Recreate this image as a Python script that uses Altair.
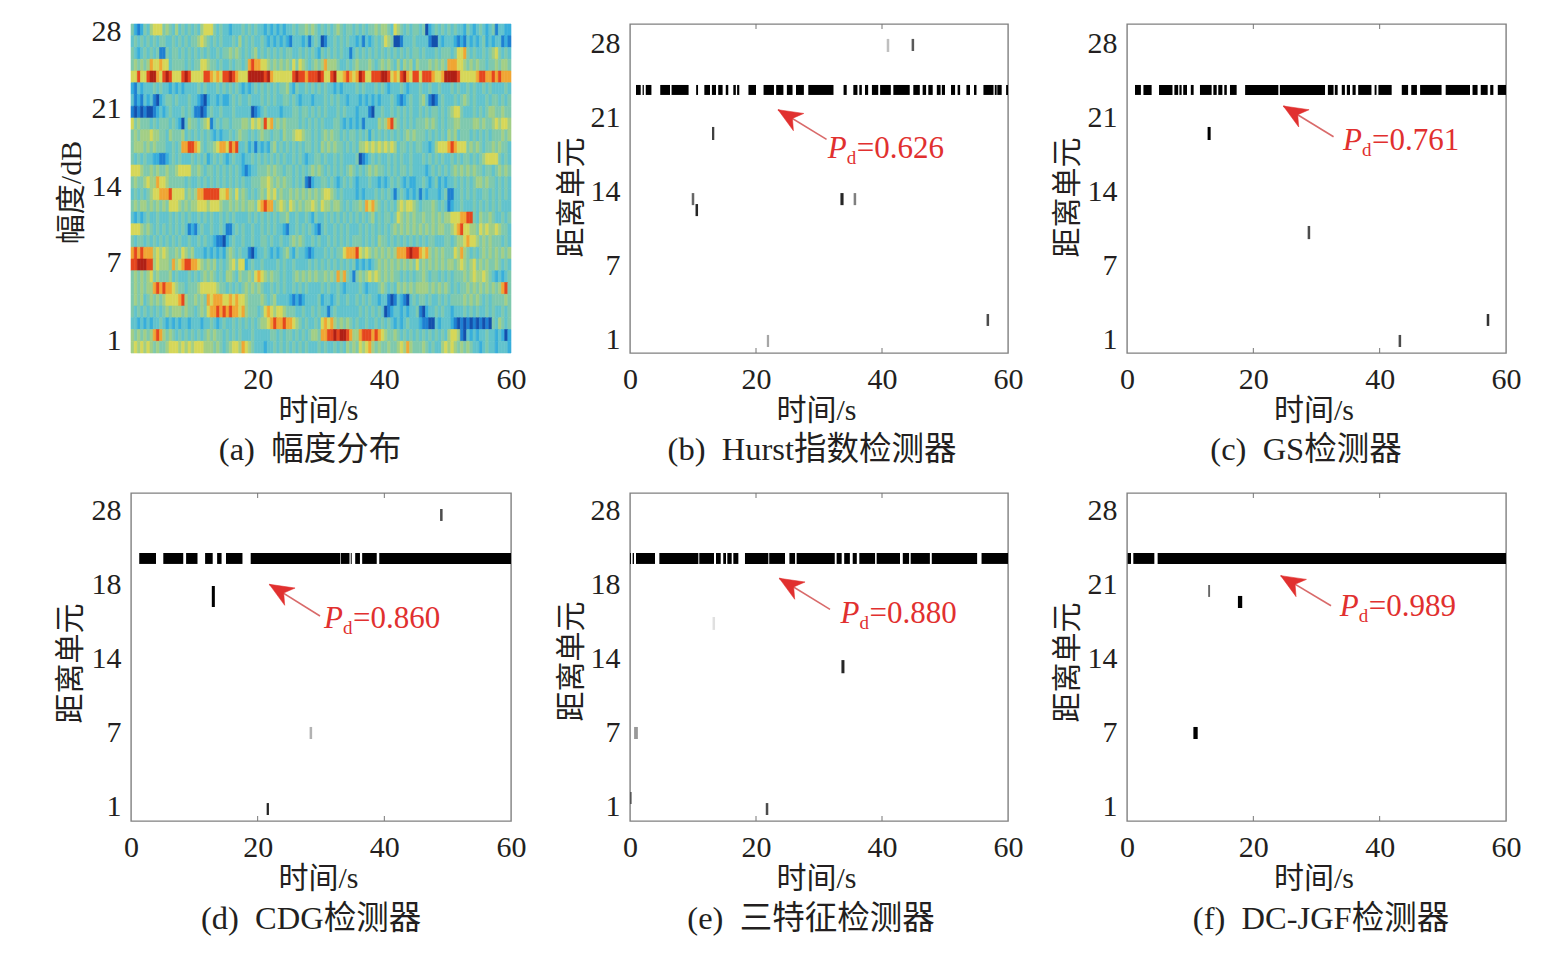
import altair as alt
import pandas as pd

FONT = "Liberation Serif, Noto Sans CJK SC"
INK = "#231f20"
RED = "#e1302f"

# Heat map levels (top row first): 28 rows, 120 columns in groups of ten
heat_rows = [
"4212435666 4543534343 4356664343 3233343434 3323232323 3434454543 4343454344 3434344545 5436543434 4340234343 4343324323 4323413322",
"3434343434 4334343434 4565434343 3343534343 3432323232 1333231343 0133434343 3231323434 6540013334 3333100323 3321213232 3423233121",
"4323434341 1434434343 4343433434 4545434345 3434343434 4334343432 4343434331 3434343434 3434343434 4343334344 4346674343 3434564343",
"4545457667 6634444343 4466544343 3434434787 7665454545 4646543454 5755543343 4544454345 4543535453 5444545454 7776654545 4434454554",
"6686689976 8986668986 6668876768 8987666999 9989766666 6898878889 8668966787 6798668889 9867689768 8688876679 9998666667 8877878777",
"2132333434 3323232333 3434333434 3434323234 3434343445 3243343434 3433232333 3434333434 3233343233 3433433433 3434334343 3434333343",
"3121323102 3443433343 3210233232 2343433433 3434343344 3432333233 3434343323 3323232323 3343212343 3453101343 3343454343 3343443434",
"1010100123 2343334343 1101343343 3343333301 2343333233 3443443434 3433343433 3233310334 3343434343 3434344343 4566433343 4345544544",
"6454443434 4434320354 4345613434 4344455465 6586745454 4443434343 4333443232 3231333354 5785434343 4445454343 4455444455 4544565665",
"4545556554 4354445343 4343432323 3434544343 4544344354 4566544343 4545443434 4343424343 4343434545 4443434343 5453444343 4343444545",
"4555454544 4334347788 7643445677 6878334231 3232453434 3434344343 5454544343 4355656565 6565344343 4433235666 7876664545 4344545443",
"4343433221 1234343334 3434234343 2343323343 4343434343 3434323344 3433434333 3401234343 3434343343 3343434343 3434344343 4566664343",
"6665445454 4544566664 4543443434 3434321233 4445454434 4343434545 4343434345 4343454544 3434344343 3332343434 3454545454 4344345454",
"4544565576 6544444343 3434343434 3434343344 4556545454 4343410233 4434323434 3233343323 2343432322 3343234232 3343434345 5454434343",
"3434345667 7786666454 5778888866 7546454343 4546564544 5454545454 5665434333 3232333434 3431343232 3132333234 1133434343 3443434343",
"4545545454 5466654545 5666566654 4545454554 6787745654 6545455654 6554554343 4454767543 4343565665 4344454343 1233433343 4343434333",
"3232343343 3343434343 3434343343 4343333434 3434343445 3343343243 3434343434 3434345343 4434654545 4454454545 5666778843 5445433434",
"6665454343 4343434312 1343343343 1134343343 3434343321 3343434321 3433434343 3343434343 4345454545 4545454554 4567866554 6565565443",
"4344343434 3434343343 3434332110 2343343343 3443433433 4545433434 3343434343 4443434354 4343434343 4343443334 4345567665 4545444343",
"7878777565 6544546545 3332323232 4543433102 3343232345 3243321233 3434344677 7865654545 4545777898 8767545454 4465754343 4545454545",
"8899988565 5547567887 7654545343 4564662343 3433334343 3433334343 4343434343 4232323454 5454545454 6454545454 5545654564 5454454343",
"4545456454 4453433343 4345454343 5543544546 7654544343 3454545454 4545475743 1454565654 5454434343 4454344343 4344454565 5654323234",
"4545455787 8776544344 4566666544 3434345454 5433434343 3434343333 4343343233 3343233345 4343545454 5555454545 4343445454 5454545784",
"4545345454 5666678544 5454767776 6767665444 4543453333 2121233334 2332343343 3434343323 3101321034 3443433434 3444454545 4343444454",
"4343434343 4545554544 3454677878 7877675444 3467656654 4433433434 3313433333 3343434343 0123323233 4102334343 3233343434 3343433434",
"3323232334 3232323323 3323343234 3343434343 4556787787 7654343343 6767545454 3433433434 3432323433 3211003233 3210101010 1010435434",
"5454545787 5454343434 3434545443 4343433343 3333443434 4343434554 7788989987 5578887876 5445434343 4343434343 5665103232 3343323202",
"5656565454 4566656565 6665554543 4566576543 3323343434 3434343334 3433434354 5465675454 4544565754 4454343356 5654545433 2343323332",
]
heat_colors = ["#1450ad", "#1f80d2", "#38aedc", "#62c3cd", "#7fc9ae", "#a3cf86",
               "#d6d759", "#f0a634", "#e5461f", "#b02016"]

# Detected runs along the target range cell (start, end seconds)
runs_b = [0.95,1.7, 2.0,2.2, 2.5,3.4, 4.8,6.35, 6.6,9.3, 10.5,10.8, 11.8,12.7, 13.0,13.65, 14.0,14.7,
          15.2,15.6, 16.4,16.8, 17.0,17.35, 18.8,20.0, 21.2,22.85, 23.2,24.35, 24.9,25.8, 26.35,27.6,
          28.3,32.3, 33.9,34.4, 35.45,36.1, 36.4,36.8, 37.3,37.8, 38.4,39.4, 39.7,41.4, 41.8,44.4,
          44.97,46.0, 46.45,47.0, 47.35,48.05, 48.7,49.3, 49.5,50.0, 50.95,51.6, 52.0,52.4, 53.4,53.97,
          54.6,55.0, 56.1,57.7, 57.9,58.2, 58.3,59.0, 59.7,60.0]
runs_c = [1.27,2.2, 2.6,3.9, 5.07,7.2, 7.5,8.1, 8.3,8.65, 8.9,9.5, 10.1,10.55, 11.55,13.4, 13.67,14.2,
          14.45,15.1, 15.4,15.8, 16.3,17.36, 18.7,23.96, 24.2,31.35, 31.8,32.7, 32.9,33.35, 34.0,34.5,
          34.8,35.3, 35.7,36.2, 36.6,38.7, 39.2,39.5, 39.8,41.9, 43.5,44.5, 45.0,45.9, 46.4,49.8,
          50.45,54.3, 54.7,55.5, 56.0,57.1, 57.5,58.0, 58.7,60.0]
runs_d = [1.3,3.95, 5.1,8.25, 8.7,10.5, 11.7,12.9, 13.6,14.3, 15.0,17.6, 18.9,33.0, 33.1,34.5,
          34.7,34.85, 35.4,36.15, 36.5,38.8, 39.2,60.0]
runs_e = [0.0,0.15, 0.42,0.63, 0.95,3.97, 4.66,10.85, 11.0,13.33, 13.65,14.4, 14.8,15.24, 15.45,16.14,
          16.4,17.2, 18.25,21.96, 22.1,24.6, 25.3,26.2, 26.45,32.5, 32.8,33.6, 34.0,34.9, 35.35,36.0,
          36.4,38.9, 39.15,42.86, 43.3,44.3, 44.55,47.6, 47.9,55.1, 55.8,60.0]
runs_f = [0.1,0.63, 1.0,4.33, 4.85,60.0]

# Isolated detections: centre second, half width, low row, high row, darkness
spots_b = [(40.95,0.2,27.27,28.46,0.25),(44.9,0.2,27.36,28.46,0.65),(13.2,0.18,19.24,20.43,0.75),
           (10.0,0.2,13.3,14.4,0.6),(10.6,0.2,12.3,13.4,0.85),(33.65,0.25,13.3,14.4,0.85),
           (35.7,0.2,13.3,14.4,0.5),(56.8,0.2,2.28,3.37,0.7),(21.9,0.18,0.36,1.46,0.35)]
spots_c = [(13.0,0.24,19.24,20.43,1.0),(28.8,0.2,10.2,11.4,0.7),(57.15,0.2,2.28,3.37,0.8),(43.2,0.2,0.36,1.46,0.7)]
spots_d = [(49.0,0.2,27.09,28.18,0.7),(13.0,0.24,19.24,21.16,1.0),(28.4,0.2,7.2,8.3,0.3),(21.6,0.18,0.27,1.36,0.85)]
spots_e = [(13.3,0.2,17.15,18.33,0.12),(33.8,0.24,13.2,14.4,0.85),(0.95,0.3,7.2,8.3,0.4),(0.15,0.15,1.27,2.37,0.45),(21.75,0.2,0.27,1.36,0.7)]
spots_f = [(13.0,0.15,20.16,21.25,0.6),(17.9,0.34,19.15,20.25,1.0),(10.85,0.34,7.2,8.3,1.0)]

band_row1 = (23.35, 24.26)
band_row2 = (23.17, 24.17)

tick_pos = [1, 7.75, 14.5, 21.25, 28]
labels_b = ["1", "7", "14", "21", "28"]
labels_d = ["1", "7", "14", "18", "28"]
labels_f = ["1", "7", "14", "21", "28"]
heat_tick_pos = [1.106, 7.66, 14.21, 20.77, 27.32]
heat_labels = ["1", "7", "14", "21", "28"]
x_ticks = [0, 20, 40, 60]
x_ticks_a = [20, 40, 60]

# Arrow annotation: head (s, cell), tail (s, cell), label anchor (s, cell), value
notes = {
    "b": ((23.5, 22.0), (31.2, 19.3), (31.4, 17.6), "=0.626"),
    "c": ((24.75, 22.34), (32.7, 19.54), (34.2, 18.33), "=0.761"),
    "d": ((21.84, 21.31), (29.84, 18.42), (30.47, 17.3), "=0.860"),
    "e": ((23.7, 21.86), (31.75, 19.03), (33.4, 17.81), "=0.880"),
    "f": ((24.33, 22.1), (32.3, 19.36), (33.7, 18.42), "=0.989"),
}
captions = {
    "a": "(a)\u2002幅度分布", "b": "(b)\u2002Hurst指数检测器", "c": "(c)\u2002GS检测器",
    "d": "(d)\u2002CDG检测器", "e": "(e)\u2002三特征检测器", "f": "(f)\u2002DC-JGF检测器",
}
caption_x = {"a": 179, "b": 182, "c": 179, "d": 180, "e": 181, "f": 194}
ytitle = {"a": ("幅度/dB", -60, 168), "b": ("距离单元", -59, 173), "c": ("距离单元", -60, 173),
          "d": ("距离单元", -61, 170), "e": ("距离单元", -59, 168), "f": ("距离单元", -60, 169)}
DOM1 = [-0.186, 29.82]
DOM2 = [-0.277, 29.64]
XS = alt.Scale(domain=[0, 60], nice=False, zero=False)


def label_expr(pos, labs):
    s = "''"
    for p, l in zip(pos, labs):
        s = f"datum.value=={p}?'{l}':({s})"
    return s


def x_axis(values, w):
    return alt.Axis(values=values, labelExpr="datum.value", title="时间/s", grid=False, ticks=False, domain=False,
                    labelFont=FONT, labelFontSize=30, labelColor=INK, labelPadding=11, labelAngle=0, labelFlush=False,
                    labelOverlap=False,
                    titleFont=FONT, titleFontSize=30, titleColor=INK, titleFontWeight="normal",
                    titleX=w / 2 - 3, titleY=57, titleBaseline="middle", titleAlign="center")


def y_axis(pos, labs, key):
    t, tx, ty = ytitle[key]
    return alt.Axis(values=pos, labelExpr=label_expr(pos, labs), title=t, grid=False, ticks=False, domain=False,
                    labelFont=FONT, labelFontSize=30, labelColor=INK, labelPadding=10, labelFlush=False,
                    labelOverlap=False,
                    titleFont=FONT, titleFontSize=30, titleColor=INK, titleFontWeight="normal",
                    titleX=tx, titleY=ty, titleBaseline="middle", titleAlign="center", titleAngle=270)


def caption_layer(key, h):
    return alt.Chart(pd.DataFrame({"t": [captions[key]]})).mark_text(
        font=FONT, fontSize=32.5, color=INK, align="center", baseline="middle"
    ).encode(text="t:N", x=alt.value(caption_x[key]), y=alt.value(426))


def heat_panel():
    w, h = 380, 329
    recs = []
    for i, row in enumerate(heat_rows):
        digits = row.replace(" ", "")
        for j, c in enumerate(digits):
            recs.append({"s": j * 0.5, "e": (j + 1) * 0.5, "lo": 27 - i, "hi": 28 - i, "v": int(c)})
    cs = alt.Scale(domain=list(range(10)), range=heat_colors)
    base = alt.Chart(pd.DataFrame(recs)).mark_rect(strokeWidth=0.6).encode(
        x=alt.X("s:Q", scale=XS, axis=x_axis(x_ticks_a, w)),
        x2="e:Q",
        y=alt.Y("lo:Q", scale=alt.Scale(domain=[0, 28], nice=False, zero=False), axis=y_axis(heat_tick_pos, heat_labels, "a")),
        y2="hi:Q",
        color=alt.Color("v:O", scale=cs, legend=None),
        stroke=alt.Stroke("v:O", scale=cs, legend=None),
    )
    return alt.layer(base, caption_layer("a", h)).properties(width=w, height=h, view=alt.ViewBackground(stroke="transparent"))


def det_panel(key, w, h, runs, spots, band, dom, labs):
    ys = alt.Scale(domain=dom, nice=False, zero=False)
    ax = x_axis(x_ticks, w)
    ay = y_axis(tick_pos, labs, key)
    recs = [{"s": runs[i], "e": runs[i + 1], "lo": band[0], "hi": band[1], "a": 1.0} for i in range(0, len(runs), 2)]
    recs += [{"s": c - hw, "e": c + hw, "lo": lo, "hi": hi, "a": a} for c, hw, lo, hi, a in spots]
    bars = alt.Chart(pd.DataFrame(recs)).mark_rect(color="#000000").encode(
        x=alt.X("s:Q", scale=XS, axis=ax),
        x2="e:Q",
        y=alt.Y("lo:Q", scale=ys, axis=ay),
        y2="hi:Q",
        opacity=alt.Opacity("a:Q", scale=None),
    )
    inner = pd.DataFrame({"x": x_ticks[1:3]})
    tick_b = alt.Chart(inner).mark_rule(color="#777777", strokeWidth=1).encode(
        x=alt.X("x:Q", scale=XS, axis=ax), y=alt.value(h - 5), y2=alt.value(h))
    tick_t = alt.Chart(inner).mark_rule(color="#777777", strokeWidth=1).encode(
        x=alt.X("x:Q", scale=XS, axis=ax), y=alt.value(0), y2=alt.value(5))
    head, tail, anchor, val = notes[key]
    arrow_df = pd.DataFrame({"x": [tail[0]], "x2": [head[0]], "y": [tail[1]], "y2": [head[1]]})
    shaft = alt.Chart(arrow_df).mark_rule(color="#d96a6a", strokeWidth=1.6).encode(
        x=alt.X("x:Q", scale=XS, axis=ax), x2="x2:Q",
        y=alt.Y("y:Q", scale=ys, axis=ay), y2="y2:Q")
    tip = alt.Chart(arrow_df).mark_point(
        shape="M0,0L0.42,1L0,0.7L-0.42,1Z", filled=True, fill=RED, stroke=RED, strokeWidth=0.5,
        opacity=1, size=2300, angle=301
    ).encode(x=alt.X("x2:Q", scale=XS, axis=ax), y=alt.Y("y2:Q", scale=ys, axis=ay))
    note_df = pd.DataFrame({"x": [anchor[0]], "y": [anchor[1]], "p": ["P"], "d": ["d"], "v": [val]})

    def txt(field, dx, dy, size, style="normal"):
        return alt.Chart(note_df).mark_text(
            font="Liberation Serif", fontSize=size, color=RED, align="left", baseline="alphabetic",
            dx=dx, dy=dy, fontStyle=style
        ).encode(x=alt.X("x:Q", scale=XS, axis=ax), y=alt.Y("y:Q", scale=ys, axis=ay), text=f"{field}:N")

    return alt.layer(bars, tick_b, tick_t, shaft, tip, txt("p", 0, 0, 31, "italic"), txt("d", 19, 6, 19),
                     txt("v", 29, 0, 31), caption_layer(key, h)).properties(width=w, height=h)


a = heat_panel()
b = det_panel("b", 378, 329, runs_b, spots_b, band_row1, DOM1, labels_b)
c = det_panel("c", 379, 329, runs_c, spots_c, band_row1, DOM1, labels_b)
d = det_panel("d", 380, 328, runs_d, spots_d, band_row2, DOM2, labels_d)
e = det_panel("e", 378, 328, runs_e, spots_e, band_row2, DOM2, labels_d)
f = det_panel("f", 379, 328, runs_f, spots_f, band_row2, DOM2, labels_f)

chart = alt.concat(a, b, c, d, e, f, columns=3, spacing=alt.RowColnumber(column=119, row=140), bounds="flush").properties(
    padding={"left": 46, "top": 8, "right": 5, "bottom": 5},
    background="white",
).resolve_scale(color="independent", x="independent", y="independent").configure_view(stroke="#808080", strokeWidth=1.4)

chart.save("out.html", embed_options={"renderer": "svg", "actions": False})
